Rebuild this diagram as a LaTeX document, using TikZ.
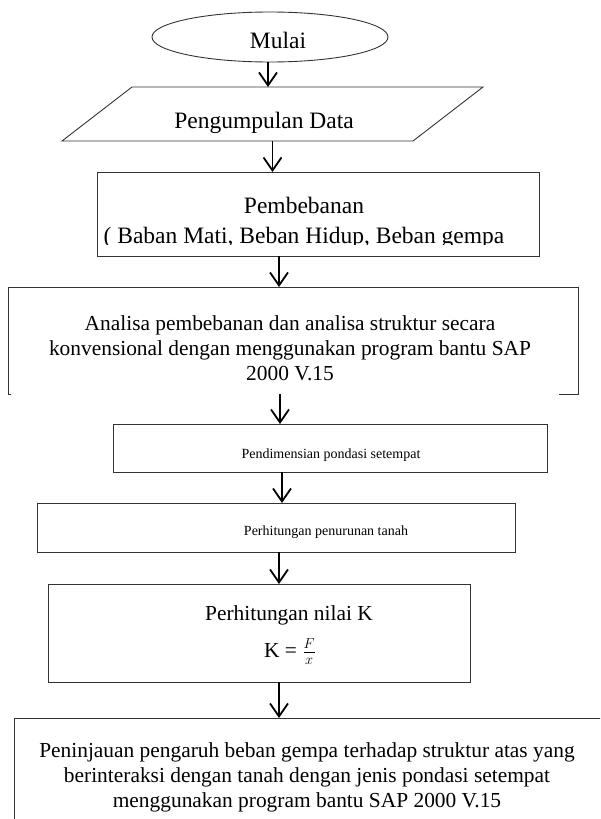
\documentclass[tikz,border=0pt]{standalone}
\usepackage{fontspec}
\setmainfont{Liberation Serif}
\usetikzlibrary{arrows.meta,shapes.geometric}

\begin{document}
\begin{tikzpicture}[line cap=butt,line join=miter,>={Straight Barb[length=13pt,width=18pt]},x=1pt,y=-1pt,
  box/.style={draw=black!80,line width=0.9pt,inner sep=0pt,outer sep=0pt},
  frame/.style={inner sep=0pt,outer sep=0pt},
  edge/.style={draw=black!80,line width=0.9pt},
  bigtxt/.style={inner sep=0pt,align=center,font=\fontsize{23.5}{30}\selectfont},
  txt/.style={inner sep=0pt,align=center,font=\fontsize{21.4}{25}\selectfont},
  smalltxt/.style={inner sep=0pt,align=center,font=\fontsize{14}{18}\selectfont},
  flow/.style={->,line width=1.8pt}]
\useasboundingbox (0,0) rectangle (600,819);
\clip (0,0) rectangle (600,819);
\node[box,ellipse,minimum width=236pt,minimum height=50pt] (mulai) at (270,37) {};
\node[bigtxt,anchor=base] (mulaitext) at (278,48) {Mulai};
\node[frame,minimum width=421pt,minimum height=54pt] (data) at (272.5,114) {};
\draw[edge] ([xshift=70pt]data.north west) -- (data.north east) -- ([xshift=-70pt]data.south east) -- (data.south west) -- cycle;
\node[bigtxt,anchor=base] (datatext) at (264,128) {Pengumpulan Data};
\node[box,minimum width=442pt,minimum height=84pt] (pemb) at (318,214) {};
\begin{scope}
\clip (97,172) rectangle (539,244.5);
\node[bigtxt,anchor=base] (pembtext) at (304,213) {Pembebanan};
\node[bigtxt,anchor=base] (bebantext) at (304,243) {( Baban Mati, Beban Hidup, Beban gempa};
\end{scope}
\node[frame,minimum width=570pt,minimum height=107pt] (analisa) at (293,340.5) {};
\draw[edge] ([xshift=3pt]analisa.south west) -- (analisa.south west) -- (analisa.north west) -- (analisa.north east) -- (analisa.south east) -- ([xshift=-19pt]analisa.south east);
\node[txt] (analisatext) at (290,348) {Analisa pembebanan dan analisa struktur secara\\konvensional dengan menggunakan program bantu SAP\\2000 V.15};
\node[box,minimum width=434pt,minimum height=48pt] (pend) at (330,448) {};
\node[smalltxt] (pendtext) at (331,455) {Pendimensian pondasi setempat};
\node[box,minimum width=478pt,minimum height=49pt] (turun) at (276,527.5) {};
\node[smalltxt] (turuntext) at (326,532) {Perhitungan penurunan tanah};
\node[box,minimum width=422pt,minimum height=98pt] (nilai) at (259,633) {};
\node[txt,anchor=base] (nilaitext) at (289,620) {Perhitungan nilai K};
\node[txt,anchor=base] (rumus) at (290,657) {K = $\frac{F}{x}$};
\node[box,minimum width=626pt,minimum height=162pt] (tinjau) at (327,799) {};
\node[txt] (tinjautext) at (307,777) {Peninjauan pengaruh beban gempa terhadap struktur atas yang\\berinteraksi dengan tanah dengan jenis pondasi setempat\\menggunakan program bantu SAP 2000 V.15};
\draw[flow] ([xshift=-2pt]mulai.south) -- ([xshift=-2pt]mulai.south |- data.north);
\draw[flow] (data.south) -- (data.south |- pemb.north);
\draw[flow] ([xshift=-39pt]pemb.south) -- ([xshift=-39pt]pemb.south |- analisa.north);
\draw[flow] ([xshift=-13pt]analisa.south) -- ([xshift=-13pt]analisa.south |- pend.north);
\draw[flow] ([xshift=-48pt]pend.south) -- ([xshift=-48pt]pend.south |- turun.north);
\draw[flow] ([xshift=3pt]turun.south) -- ([xshift=3pt]turun.south |- nilai.north);
\draw[flow] ([xshift=20pt]nilai.south) -- ([xshift=20pt]nilai.south |- tinjau.north);
\end{tikzpicture}
\end{document}
